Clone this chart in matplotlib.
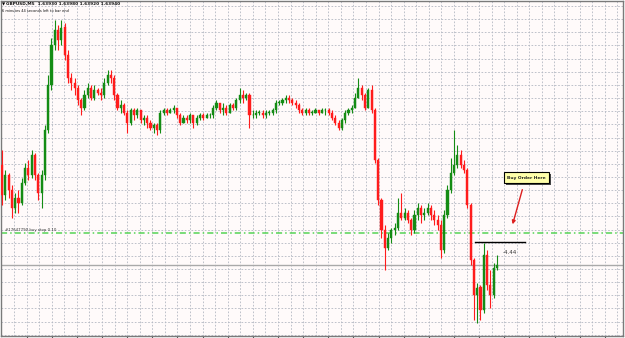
import numpy as np
import matplotlib
matplotlib.use("Agg")
import matplotlib.pyplot as plt
import matplotlib.patheffects as pe

# GBPUSD M5 candles (open of each bar = previous close)
first_open = 1.6434
closes = [1.6422, 1.6430, 1.6424, 1.6417, 1.6421, 1.6419, 1.6427, 1.6433, 1.6430, 1.6438,
          1.6430, 1.6423, 1.6430, 1.6448, 1.6466, 1.6482, 1.6488, 1.6484, 1.6489, 1.6478,
          1.6469, 1.6467, 1.6465, 1.6460, 1.6457, 1.6462, 1.6465, 1.6461, 1.6464, 1.6463,
          1.6462, 1.6467, 1.6470, 1.6469, 1.6462, 1.6457, 1.6458, 1.6455, 1.6451, 1.6456,
          1.6454, 1.6456, 1.6452, 1.6453, 1.6451, 1.6449, 1.6450, 1.6448, 1.6455, 1.6456,
          1.6455, 1.6456, 1.6457, 1.6454, 1.6451, 1.6453, 1.6452, 1.6454, 1.6451, 1.6453,
          1.6454, 1.6453, 1.6454, 1.6454, 1.6457, 1.6459, 1.6456, 1.6457, 1.6455, 1.6458,
          1.6457, 1.6460, 1.6462, 1.6461, 1.6462, 1.6454, 1.6454, 1.6455, 1.6455, 1.6454,
          1.6455, 1.6455, 1.6456, 1.6459, 1.6459, 1.6460, 1.6461, 1.6460, 1.6459, 1.6458,
          1.6456, 1.6455, 1.6456, 1.6455, 1.6455, 1.6456, 1.6455, 1.6456, 1.6456, 1.6455,
          1.6453, 1.6451, 1.6449, 1.6452, 1.6455, 1.6456, 1.6457, 1.6461, 1.6465, 1.6462,
          1.6457, 1.6464, 1.6456, 1.6436, 1.6420, 1.6408, 1.6401, 1.6405, 1.6408, 1.6409,
          1.6415, 1.6413, 1.6415, 1.6412, 1.6408, 1.6414, 1.6417, 1.6414, 1.6415, 1.6417,
          1.6414, 1.6412, 1.6410, 1.6400, 1.6414, 1.6424, 1.6431, 1.6434, 1.6438, 1.6434,
          1.6432, 1.6418, 1.6396, 1.6382, 1.6385, 1.6376, 1.6398, 1.6386, 1.6382, 1.6393,
          1.6394]
highs = [1.6440, 1.6432, 1.6431, 1.6426, 1.6423, 1.6424, 1.6429, 1.6435, 1.6436, 1.6440,
         1.6439, 1.6431, 1.6432, 1.6450, 1.6470, 1.6485, 1.6492, 1.6490, 1.6492, 1.6491,
         1.6480, 1.6471, 1.6469, 1.6466, 1.6461, 1.6464, 1.6467, 1.6466, 1.6466, 1.6465,
         1.6465, 1.6469, 1.6472, 1.6472, 1.6470, 1.6463, 1.6460, 1.6459, 1.6456, 1.6457,
         1.6457, 1.6457, 1.6456, 1.6454, 1.6454, 1.6452, 1.6451, 1.6451, 1.6456, 1.6457,
         1.6457, 1.6457, 1.6458, 1.6457, 1.6455, 1.6454, 1.6454, 1.6455, 1.6454, 1.6454,
         1.6455, 1.6455, 1.6455, 1.6455, 1.6458, 1.6460, 1.6459, 1.6459, 1.6458, 1.6459,
         1.6459, 1.6461, 1.6465, 1.6464, 1.6463, 1.6463, 1.6456, 1.6456, 1.6456, 1.6456,
         1.6456, 1.6456, 1.6457, 1.6460, 1.6460, 1.6461, 1.6462, 1.6462, 1.6461, 1.6460,
         1.6459, 1.6457, 1.6457, 1.6457, 1.6456, 1.6457, 1.6456, 1.6457, 1.6457, 1.6457,
         1.6456, 1.6454, 1.6452, 1.6453, 1.6456, 1.6457, 1.6458, 1.6463, 1.6469, 1.6466,
         1.6463, 1.6465, 1.6466, 1.6457, 1.6437, 1.6421, 1.6410, 1.6407, 1.6409, 1.6411,
         1.6421, 1.6423, 1.6417, 1.6416, 1.6413, 1.6416, 1.6419, 1.6418, 1.6417, 1.6419,
         1.6418, 1.6416, 1.6414, 1.6412, 1.6416, 1.6426, 1.6437, 1.6448, 1.6442, 1.6440,
         1.6436, 1.6433, 1.6419, 1.6397, 1.6387, 1.6386, 1.6403, 1.6400, 1.6392, 1.6395,
         1.6398]
lows = [1.6418, 1.6420, 1.6421, 1.6413, 1.6415, 1.6415, 1.6418, 1.6426, 1.6428, 1.6429,
        1.6428, 1.6420, 1.6417, 1.6428, 1.6447, 1.6464, 1.6480, 1.6480, 1.6482, 1.6476,
        1.6467, 1.6464, 1.6462, 1.6458, 1.6454, 1.6456, 1.6461, 1.6460, 1.6460, 1.6462,
        1.6460, 1.6461, 1.6466, 1.6467, 1.6460, 1.6456, 1.6455, 1.6454, 1.6447, 1.6450,
        1.6452, 1.6453, 1.6451, 1.6450, 1.6449, 1.6448, 1.6447, 1.6446, 1.6447, 1.6454,
        1.6454, 1.6455, 1.6455, 1.6453, 1.6450, 1.6451, 1.6451, 1.6451, 1.6449, 1.6450,
        1.6452, 1.6452, 1.6453, 1.6453, 1.6453, 1.6456, 1.6455, 1.6454, 1.6454, 1.6455,
        1.6456, 1.6456, 1.6459, 1.6459, 1.6460, 1.6449, 1.6453, 1.6453, 1.6454, 1.6453,
        1.6453, 1.6454, 1.6454, 1.6455, 1.6458, 1.6458, 1.6459, 1.6459, 1.6458, 1.6457,
        1.6455, 1.6454, 1.6454, 1.6454, 1.6454, 1.6455, 1.6454, 1.6455, 1.6454, 1.6454,
        1.6452, 1.6450, 1.6448, 1.6448, 1.6451, 1.6454, 1.6455, 1.6457, 1.6461, 1.6460,
        1.6456, 1.6457, 1.6455, 1.6435, 1.6418, 1.6405, 1.6392, 1.6400, 1.6403, 1.6406,
        1.6408, 1.6412, 1.6412, 1.6411, 1.6406, 1.6407, 1.6412, 1.6411, 1.6412, 1.6414,
        1.6412, 1.6410, 1.6408, 1.6397, 1.6399, 1.6413, 1.6423, 1.6430, 1.6433, 1.6433,
        1.6431, 1.6417, 1.6394, 1.6372, 1.6371, 1.6372, 1.6375, 1.6384, 1.6377, 1.6381,
        1.6392]

buy_stop_price = 1.6407
trend_price = 1.64033
trend_bars = [143.3, 158.5]
profit_text = "-4.44"
order_label = "#17647790 buy stop 0.10"
note_text = "Buy Order Here"
timer_text = "6 minutes 44 seconds left to bar end"

W, H = 625, 338
fig = plt.figure(figsize=(W / 100, H / 100), dpi=100)
ax = fig.add_axes([1.5 / W, 2 / H, 621 / W, 335.5 / H])
ax.set_facecolor("snow")

closes = np.array(closes)
highs = np.array(highs)
lows = np.array(lows)
opens = np.concatenate([[first_open], closes[:-1]])
x = np.arange(len(closes))
up = closes >= opens
cols = np.where(up, "#148c14", "#ff1c1c")

# candles
ax.vlines(x, lows, highs, colors=cols, lw=0.8, zorder=3)
body = np.maximum(np.abs(closes - opens), 0.00002)
ax.bar(x, body, bottom=np.minimum(opens, closes), width=0.62, color=cols,
       edgecolor=cols, lw=0.3, zorder=4)

ax.set_xlim(-0.15, 188.03)
ax.set_ylim(1.65 - 0.00004 * 336, 1.65 - 0.00004 * 0.5)

# grid like the terminal
ax.set_yticks(1.64976 - 0.000526 * np.arange(26))
ax.set_xticks(np.arange(3.636, 188, 3.809))
ax.set_xticks(np.arange(7.45, 188, 7.618), minor=True)
ax.grid(True, which="major", color="#b3b8c2", lw=0.6, linestyle=(0, (2, 2)))
ax.tick_params(which="major", length=0, labelbottom=False, labelleft=False)
ax.tick_params(which="minor", length=2.5, width=0.8, color="#555555", direction="out")
for s in ax.spines.values():
    s.set_color("#7a7a7a")
    s.set_linewidth(1.0)

# bid line, pending order, trend line
ax.axhline(closes[-1], color="#a9a9a9", lw=1, zorder=2)
ax.axhline(buy_stop_price, color="#55d455", lw=1.1, linestyle=(0, (4, 2, 1, 2)), zorder=2)
ax.plot(trend_bars, [trend_price, trend_price], color="black", lw=1, zorder=5)
ax.text(151.8, 1.63989, profit_text, fontsize=4, color="#333333", va="center", zorder=6)

# callout
t = ax.text(158.9, 1.6429, note_text, fontsize=3.2, fontweight="bold", color="#222222",
            ha="center", va="center", zorder=7,
            bbox=dict(boxstyle="square,pad=0.8", fc="#ffffaa", ec="black", lw=0.8))
t.get_bbox_patch().set_path_effects([pe.SimplePatchShadow(offset=(1.5, -1.5),
                                     shadow_rgbFace="#333333", alpha=0.9), pe.Normal()])
ax.annotate("", xy=(154.5, 1.64092), xytext=(157.9, 1.64252),
            arrowprops=dict(arrowstyle="-|>", color="#dd1f1f", lw=1, mutation_scale=5),
            zorder=7)

# header texts
head = "GBPUSD,M5  %.5f %.5f %.5f %.5f" % (opens[-1], highs[-1], lows[-1], closes[-1])
fig.text(1.5 / W, 1 - 4 / H, "\u25bc", fontsize=3, va="center", color="black")
fig.text(6 / W, 1 - 4 / H, head, fontsize=3.1, va="center", color="#111111",
         fontweight="bold")
fig.text(2 / W, 1 - 10.5 / H, timer_text, fontsize=2.6, va="center", color="#111111")
fig.text(5 / W, 1 - 229.5 / H, order_label, fontsize=2.8, va="center", color="#333333")

fig.savefig("out.png", dpi=100)
